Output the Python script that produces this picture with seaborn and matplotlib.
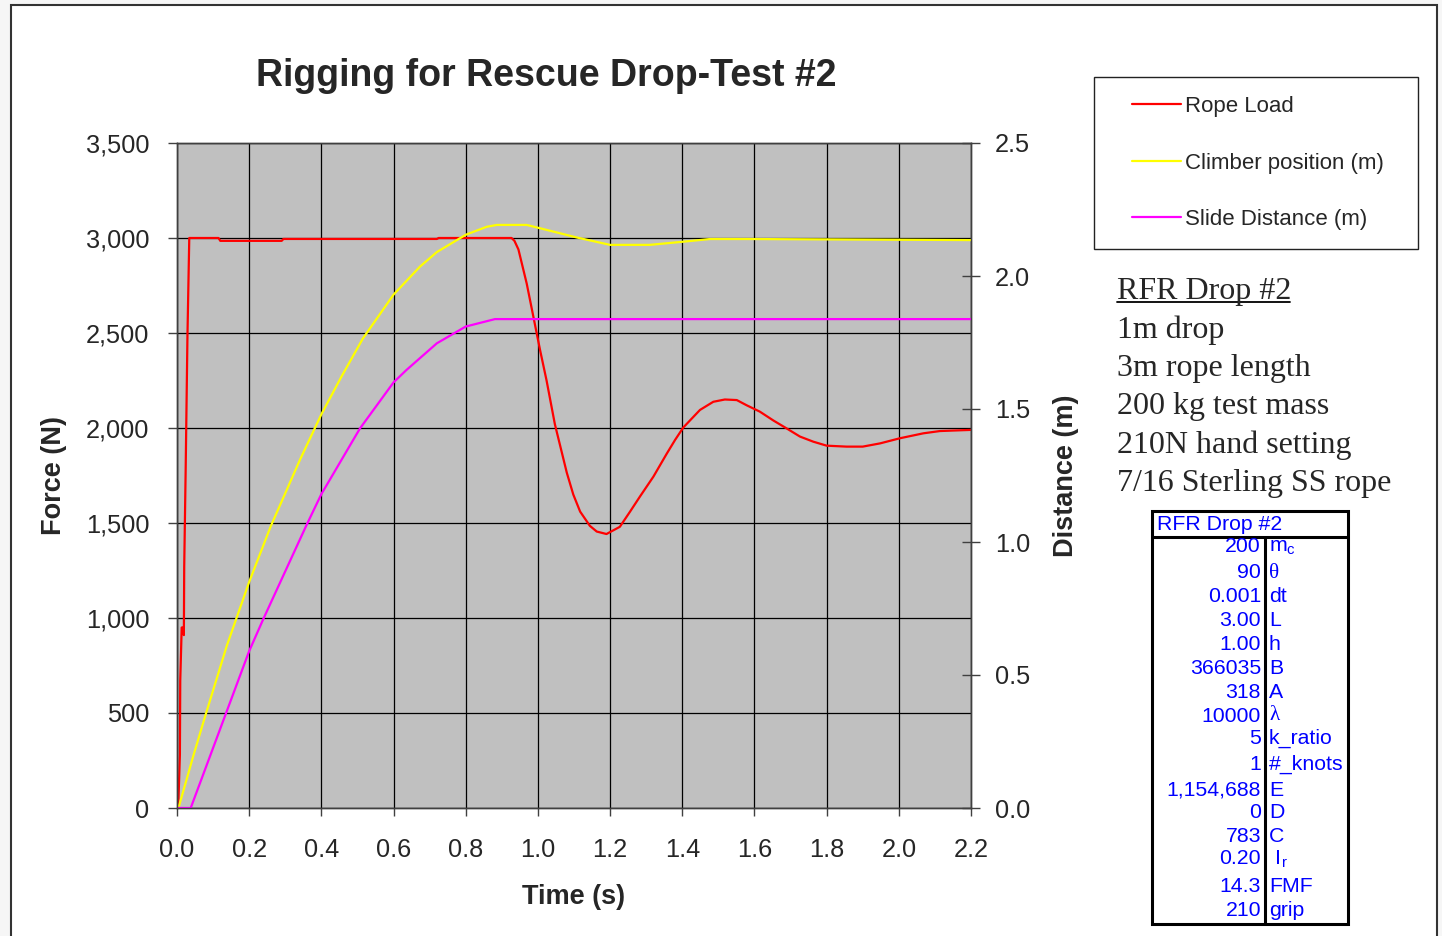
import numpy as np
import matplotlib
matplotlib.use("Agg")
import matplotlib.pyplot as plt
from matplotlib.patches import Rectangle
from matplotlib.lines import Line2D
from matplotlib.ticker import StrMethodFormatter
import seaborn as sns

# Rope load (N) against time (s)
load_t = [0.000, 0.004, 0.008, 0.009, 0.013, 0.018, 0.019, 0.020, 0.024, 0.029, 0.034,
          0.115, 0.120, 0.290, 0.295, 0.720, 0.725, 0.927, 0.935, 0.946, 0.969, 0.987,
          1.006, 1.024, 1.047, 1.080, 1.098, 1.117, 1.144, 1.163, 1.190, 1.227, 1.255,
          1.283, 1.320, 1.357, 1.380, 1.403, 1.449, 1.486, 1.518, 1.551, 1.578,
          1.615, 1.652, 1.689, 1.726, 1.763, 1.800, 1.855, 1.900, 1.948, 2.003,
          2.068, 2.114, 2.200]
load_n = [0, 40, 280, 670, 950, 950, 910, 1270, 1780, 2490, 3000,
          3000, 2985, 2985, 2995, 2995, 3000, 3000, 2985, 2940, 2760, 2590,
          2410, 2250, 2020, 1765, 1650, 1560, 1485, 1455, 1442, 1480, 1559,
          1640, 1744, 1865, 1937, 2003, 2095, 2138, 2150, 2147, 2120,
          2086, 2040, 1998, 1955, 1928, 1907, 1902, 1902, 1919, 1946,
          1972, 1984, 1990]

# Climber position (m)
climb_t = [0.000, 0.004, 0.045, 0.078, 0.138, 0.200, 0.260, 0.341, 0.400, 0.455,
           0.515, 0.600, 0.673, 0.720, 0.800, 0.858, 0.886, 0.969, 1.034, 1.107,
           1.200, 1.310, 1.403, 1.477, 1.588, 2.200]
climb_m = [0.000, 0.000, 0.195, 0.345, 0.610, 0.850, 1.060, 1.310, 1.480, 1.620,
           1.765, 1.930, 2.035, 2.090, 2.155, 2.185, 2.192, 2.192, 2.170, 2.145,
           2.117, 2.117, 2.129, 2.139, 2.139, 2.135]

# Slide distance (m)
slide_t = [0.000, 0.038, 0.133, 0.200, 0.239, 0.359, 0.400, 0.507, 0.600, 0.636,
           0.720, 0.800, 0.881, 2.200]
slide_m = [0.000, 0.000, 0.346, 0.590, 0.710, 1.064, 1.180, 1.427, 1.600, 1.647,
           1.747, 1.810, 1.838, 1.838]

series_names = ["Rope Load", "Climber position (m)", "Slide Distance (m)"]

time_ticks = [0.0, 0.2, 0.4, 0.6, 0.8, 1.0, 1.2, 1.4, 1.6, 1.8, 2.0, 2.2]
force_ticks = [0, 500, 1000, 1500, 2000, 2500, 3000, 3500]
dist_ticks = [0.0, 0.5, 1.0, 1.5, 2.0, 2.5]

notes_title = "RFR Drop #2"
notes = ["1m drop", "3m rope length", "200 kg test mass",
         "210N hand setting", "7/16 Sterling SS rope"]

param_values = ["200", "90", "0.001", "3.00", "1.00", "366035", "318", "10000",
                "5", "1", "1,154,688", "0", "783", "0.20", "14.3", "210"]
param_names = [r"m$_\mathregular{c}$", "θ", "dt", "L", "h", "B", "A", "λ",
               "k_ratio", "#_knots", "E", "D", "C", r" I$_\mathregular{r}$", "FMF", "grip"]
param_rows_y = [547, 573, 597, 621, 645, 669, 693, 716, 738, 764, 790, 813, 837, 859, 886, 911]

sns.set_style("ticks")
plt.rcParams["font.family"] = ["Liberation Sans", "DejaVu Sans"]
plt.rcParams["mathtext.fontset"] = "custom"
plt.rcParams["mathtext.rm"] = "Liberation Sans"

W, H = 1442, 936


def fx(x):
    return x / W


def fy(y):
    return 1 - y / H


fig = plt.figure(figsize=(14.42, 9.36), dpi=100, facecolor="#f6f6f6")
fig.patches.append(Rectangle((fx(11), -0.01), fx(1437) - fx(11), fy(5) + 0.01,
                             transform=fig.transFigure, facecolor="white",
                             edgecolor="#333333", lw=1.5, zorder=-10))

ax = fig.add_axes([fx(177), fy(808), (971 - 177) / W, (808 - 143) / H])
ax.set_facecolor("#c0c0c0")
sns.lineplot(x=load_t, y=load_n, ax=ax, color="#ff0000", lw=1.6,
             estimator=None, sort=False, label=series_names[0], legend=False)

ax2 = ax.twinx()
sns.lineplot(x=climb_t, y=climb_m, ax=ax2, color="#ffff00", lw=1.6,
             estimator=None, sort=False, label=series_names[1], legend=False)
sns.lineplot(x=slide_t, y=slide_m, ax=ax2, color="#ff00ff", lw=1.6,
             estimator=None, sort=False, label=series_names[2], legend=False)

ax.set_xlim(0, 2.2)
ax.set_ylim(0, 3500)
ax2.set_ylim(0, 2.5)
ax.set_xticks(time_ticks)
ax.set_yticks(force_ticks)
ax2.set_yticks(dist_ticks)
ax.xaxis.set_major_formatter(StrMethodFormatter("{x:.1f}"))
ax.yaxis.set_major_formatter(StrMethodFormatter("{x:,.0f}"))
ax2.yaxis.set_major_formatter(StrMethodFormatter("{x:.1f}"))
ax.grid(True, color="black", lw=0.9)

for a in (ax, ax2):
    for s in a.spines.values():
        s.set_color("#404040")
        s.set_linewidth(1.0)

ax.tick_params(axis="y", direction="out", length=6.5, width=1, color="#404040",
               labelsize=18.3, pad=13.5)
ax.tick_params(axis="x", direction="out", length=6, width=1, color="#404040",
               labelsize=18.3, pad=15.5)
ax2.tick_params(axis="y", direction="inout", length=12.5, width=1, color="#404040",
                labelsize=18.3, pad=11)

ax.set_xlabel("Time (s)", fontsize=19.5, fontweight="bold", va="center")
ax.xaxis.set_label_coords((574 - 177) / 794, -(897 - 808) / 665)
ax.set_ylabel("Force (N)", fontsize=19.5, fontweight="bold", va="center")
ax.yaxis.set_label_coords((54 - 177) / 794, 0.5)
ax2.set_ylabel("Distance (m)", fontsize=19.5, fontweight="bold", va="center",
               rotation=90)
ax2.yaxis.set_label_coords((1066 - 177) / 794, 0.5)

fig.text(fx(546), fy(76), "Rigging for Rescue Drop-Test #2", fontsize=27,
         fontweight="bold", ha="center", va="center")

# legend
fig.patches.append(Rectangle((fx(1094), fy(249)), fx(1418) - fx(1094), fy(77) - fy(249),
                             transform=fig.transFigure, facecolor="white",
                             edgecolor="#222222", lw=1.0, zorder=1))
handles = [ax.get_lines()[0], ax2.get_lines()[0], ax2.get_lines()[1]]
leg = fig.legend(handles, series_names, loc="upper left",
                 bbox_to_anchor=(fx(1132), fy(96)), frameon=False, fontsize=16,
                 handlelength=2.2, handletextpad=0.2, labelspacing=1.6,
                 borderpad=0, borderaxespad=0)
leg.set_zorder(5)

# notes
fig.text(fx(1117), fy(292), notes_title, family="Liberation Serif", fontsize=23,
         va="center")
fig.add_artist(Line2D([fx(1117), fx(1290)], [fy(302), fy(302)], color="black", lw=1.3))
for i, line in enumerate(notes):
    fig.text(fx(1117), fy(330 + 38.3 * i), line, family="Liberation Serif",
             fontsize=23, va="center")

# parameter table
blue = "#0000ff"
fig.patches.append(Rectangle((fx(1152), fy(924)), fx(1348) - fx(1152), fy(511) - fy(924),
                             transform=fig.transFigure, facecolor="white",
                             edgecolor="black", lw=2.2, zorder=1))
fig.add_artist(Line2D([fx(1152), fx(1348)], [fy(537), fy(537)], color="black", lw=2.2))
fig.add_artist(Line2D([fx(1265), fx(1265)], [fy(537), fy(924)], color="black", lw=2.2))
fig.text(fx(1157), fy(525), notes_title, color=blue, fontsize=15.3, va="center")
for val, name, y in zip(param_values, param_names, param_rows_y):
    fig.text(fx(1261), fy(y), val, color=blue, fontsize=15.3, ha="right", va="center")
    fam = ["Liberation Serif"] if name in ("θ", "λ") else ["Liberation Sans", "DejaVu Sans"]
    fig.text(fx(1269), fy(y), name, color=blue, fontsize=15.3, ha="left", va="center",
             family=fam)

fig.savefig("out.png", dpi=100, facecolor=fig.get_facecolor())
